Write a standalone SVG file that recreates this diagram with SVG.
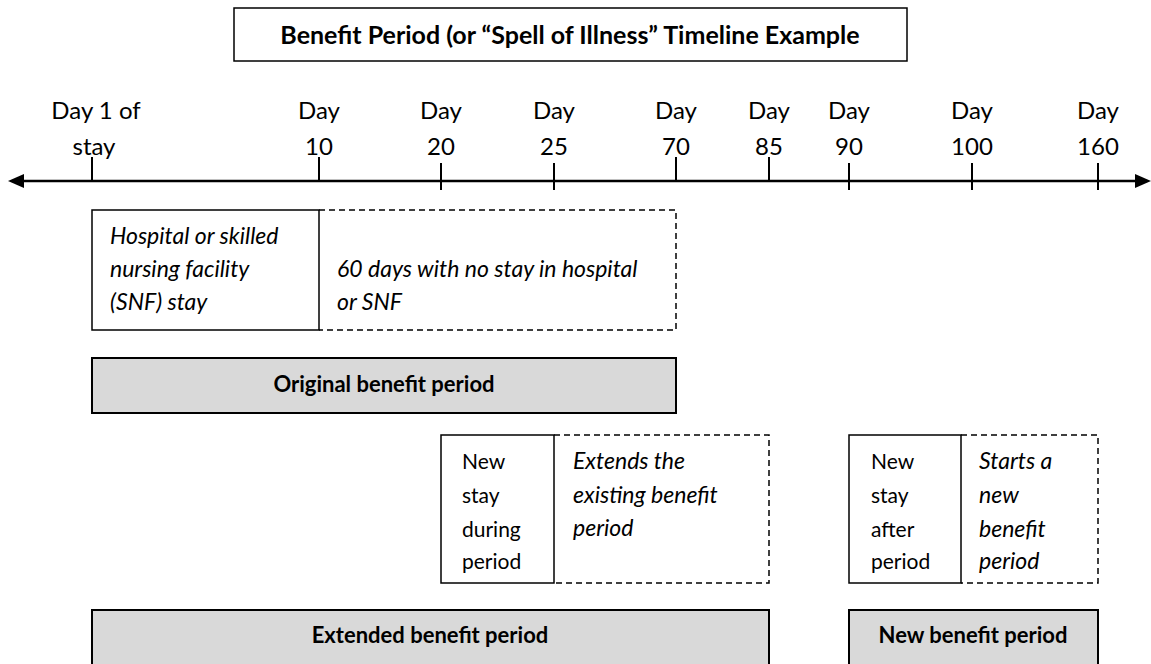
<svg xmlns="http://www.w3.org/2000/svg" width="1151" height="664" viewBox="0 0 1151 664">
<defs>
<style>
.t{font-family:Lato,"Open Sans",sans-serif;fill:#000}
.lbl{font-size:24px;text-anchor:middle}
.it{font-size:23px;font-style:italic}
.rg{font-size:21px}
.b{font-size:22px;font-weight:bold;text-anchor:middle}
.solid{fill:none;stroke:#000;stroke-width:1.5}
.dash{fill:none;stroke:#000;stroke-width:1.5;stroke-dasharray:6 4}
.gray{fill:#d9d9d9;stroke:#000;stroke-width:2}
.tick{stroke:#000;stroke-width:2}
</style>
</defs>
<rect width="1151" height="664" fill="#fff"/>
<g id="title">
<rect x="234" y="8" width="673" height="53" fill="#fff" stroke="#000" stroke-width="1.5"/>
<text class="t b" x="570" y="44" style="font-size:25px">Benefit Period (or “Spell of Illness” Timeline Example</text>
</g>
<g id="connectors">
<line x1="20" y1="181" x2="1140" y2="181" stroke="#000" stroke-width="2.5"/>
<polygon points="8,181 24,174 24,188" fill="#000"/>
<polygon points="1151,181 1135,174 1135,188" fill="#000"/>
<line class="tick" x1="92" y1="157" x2="92" y2="182"/>
<line class="tick" x1="319" y1="157" x2="319" y2="182"/>
<line class="tick" x1="441" y1="163" x2="441" y2="190"/>
<line class="tick" x1="554" y1="163" x2="554" y2="190"/>
<line class="tick" x1="676" y1="157" x2="676" y2="182"/>
<line class="tick" x1="769" y1="157" x2="769" y2="182"/>
<line class="tick" x1="849" y1="163" x2="849" y2="190"/>
<line class="tick" x1="972" y1="163" x2="972" y2="190"/>
<line class="tick" x1="1098" y1="163" x2="1098" y2="190"/>
</g>
<g id="labels">
<text class="t lbl" x="96" y="119">Day 1 of</text>
<text class="t lbl" x="94" y="155">stay</text>
<text class="t lbl" x="319" y="119">Day</text>
<text class="t lbl" x="319" y="155">10</text>
<text class="t lbl" x="441" y="119">Day</text>
<text class="t lbl" x="441" y="155">20</text>
<text class="t lbl" x="554" y="119">Day</text>
<text class="t lbl" x="554" y="155">25</text>
<text class="t lbl" x="676" y="119">Day</text>
<text class="t lbl" x="676" y="155">70</text>
<text class="t lbl" x="769" y="119">Day</text>
<text class="t lbl" x="769" y="155">85</text>
<text class="t lbl" x="849" y="119">Day</text>
<text class="t lbl" x="849" y="155">90</text>
<text class="t lbl" x="972" y="119">Day</text>
<text class="t lbl" x="972" y="155">100</text>
<text class="t lbl" x="1098" y="119">Day</text>
<text class="t lbl" x="1098" y="155">160</text>
</g>
<g id="stay1">
<rect class="solid" x="92" y="210" width="227" height="120"/>
<text class="t it" x="110" y="244">Hospital or skilled</text>
<text class="t it" x="110" y="277">nursing facility</text>
<text class="t it" x="110" y="310">(SNF) stay</text>
</g>
<g id="gap1">
<path class="dash" d="M319,210 H676 V330 H319"/>
<text class="t it" x="337" y="277">60 days with no stay in hospital</text>
<text class="t it" x="337" y="310">or SNF</text>
</g>
<g id="original">
<rect class="gray" x="92" y="358" width="584" height="55"/>
<text class="t b" x="384" y="392">Original benefit period</text>
</g>
<g id="stay2">
<rect class="solid" x="441" y="435" width="113" height="148"/>
<text class="t rg" x="462" y="469">New</text>
<text class="t rg" x="462" y="503">stay</text>
<text class="t rg" x="462" y="537">during</text>
<text class="t rg" x="462" y="569">period</text>
</g>
<g id="extends">
<path class="dash" d="M554,435 H769 V583 H554"/>
<text class="t it" x="573" y="469">Extends the</text>
<text class="t it" x="573" y="503">existing benefit</text>
<text class="t it" x="573" y="536">period</text>
</g>
<g id="stay3">
<rect class="solid" x="849" y="435" width="112" height="148"/>
<text class="t rg" x="871" y="469">New</text>
<text class="t rg" x="871" y="503">stay</text>
<text class="t rg" x="871" y="537">after</text>
<text class="t rg" x="871" y="569">period</text>
</g>
<g id="starts">
<path class="dash" d="M961,435 H1098 V583 H961"/>
<text class="t it" x="979" y="469">Starts a</text>
<text class="t it" x="979" y="503">new</text>
<text class="t it" x="979" y="537">benefit</text>
<text class="t it" x="979" y="569">period</text>
</g>
<g id="extended">
<rect class="gray" x="92" y="610" width="677" height="60"/>
<text class="t b" x="430" y="643">Extended benefit period</text>
</g>
<g id="newperiod">
<rect class="gray" x="849" y="610" width="249" height="60"/>
<text class="t b" x="973" y="643">New benefit period</text>
</g>
</svg>
